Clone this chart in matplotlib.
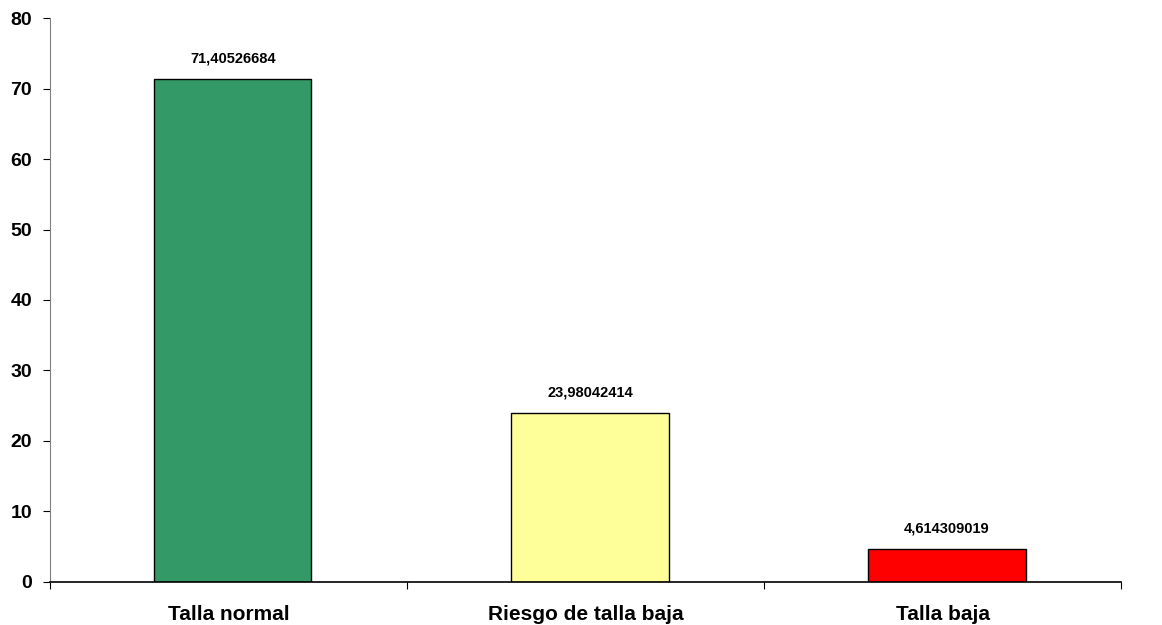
import matplotlib
matplotlib.use("Agg")
import matplotlib.pyplot as plt
import numpy as np

plt.rcParams["font.family"] = ["Liberation Sans", "DejaVu Sans"]

# ── Data ─────────────────────────────────────────────────────────────
categories = ["Talla normal", "Riesgo de talla baja", "Talla baja"]
values = [71.40526684, 23.98042414, 4.614309019]
value_labels = ["71,40526684", "23,98042414", "4,614309019"]
colors = ["#339966", "#FFFF99", "#FF0000"]
y_ticks = [0, 10, 20, 30, 40, 50, 60, 70, 80]

fig = plt.figure(figsize=(11.62, 6.25), dpi=100)
ax = fig.add_axes([0.043, 0.069, 0.922, 0.902])

x = np.arange(len(categories))
# Excel draws the bars a hair right of the category centre
bars = ax.bar(x + 0.012, values, width=0.44, color=colors, edgecolor="black", linewidth=1)

for bar, lab in zip(bars, value_labels):
    ax.text(bar.get_x() + bar.get_width() / 2, bar.get_height() + 1.9, lab,
            ha="center", va="bottom", fontsize=10.5, fontweight="bold")

ax.set_xlim(-0.5, 2.5)
ax.set_ylim(0, 80)
ax.set_yticks(y_ticks)
ax.set_yticklabels([str(t) for t in y_ticks], fontsize=14, fontweight="bold")

# category ticks sit on the boundaries, labels in the middle
ax.set_xticks([-0.5, 0.5, 1.5, 2.5])
ax.set_xticklabels([])
ax.set_xticks(x, minor=True)
ax.set_xticklabels(categories, minor=True, fontsize=15, fontweight="bold")
ax.tick_params(axis="x", which="minor", length=0, pad=17)
ax.tick_params(axis="x", which="major", length=5, direction="out")
ax.tick_params(axis="y", length=5, direction="out", pad=8)

ax.spines["top"].set_visible(False)
ax.spines["right"].set_visible(False)
ax.spines["left"].set_color("#808080")
ax.spines["bottom"].set_color("black")
ax.spines["bottom"].set_linewidth(1.2)

fig.savefig("out.png", dpi=100)
